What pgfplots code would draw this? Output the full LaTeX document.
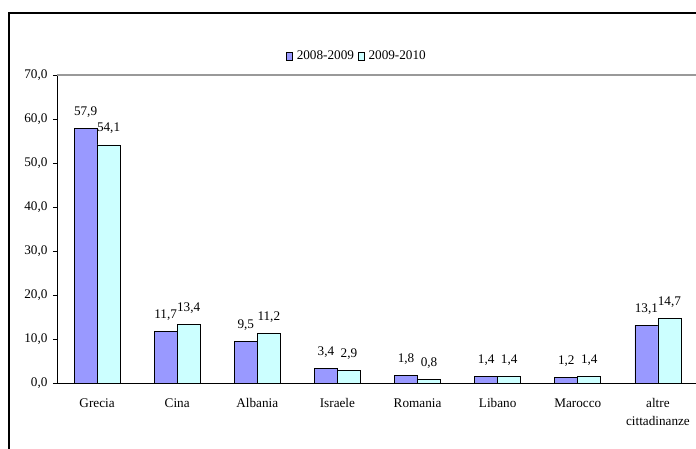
\documentclass[border=0pt]{standalone}
\usepackage{fontspec}
\setmainfont{Liberation Serif}
\usepackage{pgfplots}
\pgfplotsset{compat=1.18}

\definecolor{serA}{HTML}{9999FF}
\definecolor{serB}{HTML}{CCFFFF}

\newcommand{\lblfont}{\fontsize{13.2}{18}\selectfont}

\begin{document}
\begin{tikzpicture}[x=1pt,y=1pt]
\clip (0,0) rectangle (696,448);
\fill[white] (0,0) rectangle (696,448);
% chart frame (only left and top are inside the picture)
\draw[line width=1.1pt] (9,-10) -- (9,435) -- (720,435);
\begin{axis}[
    at={(57pt,65pt)}, anchor=south west,
    scale only axis,
    width=641pt, height=308pt,
    ybar=0pt,
    bar width=23pt,
    xmin=-0.5, xmax=7.5,
    ymin=0, ymax=70,
    ytick={0,10,...,70},
    xtick={0,...,7},
    xticklabels={Grecia,Cina,Albania,Israele,Romania,Libano,Marocco,{altre\\cittadinanze}},
    xticklabel style={align=center, font=\lblfont, yshift=-8pt},
    major x tick style={draw=none},
    extra x ticks={-0.5,0.5,...,7.5},
    extra x tick labels={},
    extra x tick style={tick style={draw=black, line width=0.8pt}, major tick length=4pt},
    axis x line*=bottom,
    axis y line*=left,
    axis line style={black, line width=0.9pt},
    tick align=outside,
    major tick length=4pt,
    y tick style={black, line width=0.8pt},
    yticklabel style={font=\lblfont, xshift=-2pt},
    /pgf/number format/.cd, fixed, fixed zerofill, precision=1, use comma, assume math mode=true,
    /pgfplots/.cd,
    nodes near coords,
    every node near coord/.append style={font=\lblfont, anchor=base, yshift=13pt, inner sep=0pt},
    legend style={at={(axis description cs:0.468,1.062)}, anchor=center,
        draw=none, fill=none, font=\lblfont, column sep=2pt},
    legend columns=2,
    legend image code/.code={\draw[#1, line width=0.6pt] (0pt,-4pt) rectangle (6pt,4pt);},
    clip=false,
]
\addplot[fill=serA, draw=black, line width=0.8pt] coordinates {
    (0,57.9) (1,11.7) (2,9.5) (3,3.4) (4,1.8) (5,1.4) (6,1.2) (7,13.1)
};
\addplot[fill=serB, draw=black, line width=0.8pt] coordinates {
    (0,54.1) (1,13.4) (2,11.2) (3,2.9) (4,0.8) (5,1.4) (6,1.4) (7,14.7)
};
\legend{2008-2009,2009-2010}
\draw[gray!80, line width=1.3pt] (axis cs:-0.5,70) -- (axis cs:7.5,70);
\end{axis}
\end{tikzpicture}
\end{document}
